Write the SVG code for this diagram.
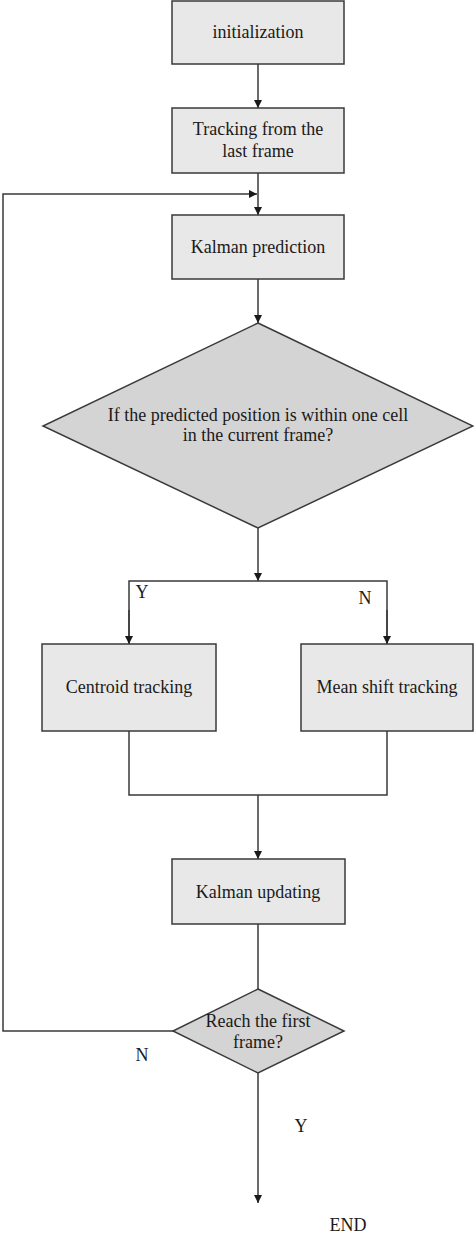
<svg xmlns="http://www.w3.org/2000/svg" width="474" height="1237" viewBox="0 0 474 1237">
<style>
.box{fill:#e8e8e8;stroke:#3a3a3a;stroke-width:1.5}
.dia{fill:#d4d4d4;stroke:#3a3a3a;stroke-width:1.5}
.ln{fill:none;stroke:#3a3a3a;stroke-width:1.5}
text{font-family:"Liberation Serif","Times New Roman",serif;font-size:18px;fill:#1a1a1a;text-anchor:middle}
</style>
<defs>
<marker id="ah" viewBox="0 0 10 10" refX="10" refY="5" markerWidth="8" markerHeight="8" markerUnits="userSpaceOnUse" orient="auto">
<path d="M0,0 L10,5 L0,10 z" fill="#1a1a1a"/>
</marker>
</defs>
<g id="connectors">
<line class="ln" x1="258" y1="64" x2="258" y2="108" marker-end="url(#ah)"/>
<line class="ln" x1="258" y1="173" x2="258" y2="215" marker-end="url(#ah)"/>
<line class="ln" x1="258" y1="279" x2="258" y2="323" marker-end="url(#ah)"/>
<line class="ln" x1="258" y1="528" x2="258" y2="581" marker-end="url(#ah)"/>
<polyline class="ln" points="129,644 129,581 387,581 387,644" />
<line class="ln" x1="129" y1="610" x2="129" y2="644" marker-end="url(#ah)"/>
<line class="ln" x1="387" y1="610" x2="387" y2="644" marker-end="url(#ah)"/>
<polyline class="ln" points="129,731 129,795 387,795 387,731"/>
<line class="ln" x1="258" y1="795" x2="258" y2="859" marker-end="url(#ah)"/>
<line class="ln" x1="258" y1="924" x2="258" y2="989"/>
<polyline class="ln" points="173,1031 3,1031 3,194 257,194" marker-end="url(#ah)"/>
<line class="ln" x1="258" y1="1073" x2="258" y2="1203" marker-end="url(#ah)"/>
<text x="142" y="598">Y</text>
<text x="365" y="604">N</text>
<text x="142" y="1061">N</text>
<text x="301" y="1132">Y</text>
</g>
<g id="init"><rect class="box" x="172" y="1" width="172" height="63"/><text x="258" y="38">initialization</text></g>
<g id="track-last"><rect class="box" x="172" y="108" width="172" height="65"/><text x="258" y="135">Tracking from the</text><text x="258" y="157">last frame</text></g>
<g id="kalman-pred"><rect class="box" x="172" y="215" width="172" height="64"/><text x="258" y="253">Kalman prediction</text></g>
<g id="decision1"><polygon class="dia" points="258,323 473,426 258,528 43,426"/><text x="258" y="421">If the predicted position is within one cell</text><text x="258" y="441">in the current frame?</text></g>
<g id="centroid"><rect class="box" x="42" y="644" width="174" height="87"/><text x="129" y="693">Centroid tracking</text></g>
<g id="meanshift"><rect class="box" x="301" y="644" width="172" height="87"/><text x="387" y="693">Mean shift tracking</text></g>
<g id="kalman-upd"><rect class="box" x="172" y="859" width="173" height="65"/><text x="258" y="898">Kalman updating</text></g>
<g id="decision2"><polygon class="dia" points="258,989 344,1031 258,1073 173,1031"/><text x="258" y="1027">Reach the first</text><text x="258" y="1048">frame?</text></g>
<g id="end"><text x="348" y="1231">END</text></g>
</svg>
